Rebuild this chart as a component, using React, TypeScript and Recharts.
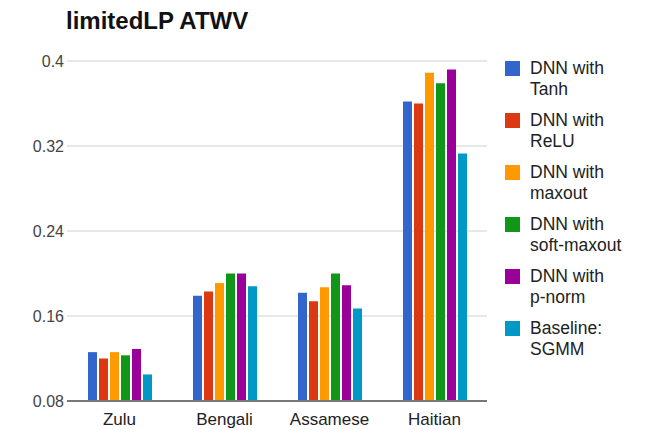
import React from "react"
import {
  BarChart,
  Bar,
  XAxis,
  YAxis,
  CartesianGrid,
} from "recharts"

const languages = ["Zulu", "Bengali", "Assamese", "Haitian"]

const tanh = [0.126, 0.179, 0.182, 0.362]
const relu = [0.12, 0.183, 0.174, 0.36]
const maxout = [0.126, 0.191, 0.187, 0.389]
const softMaxout = [0.123, 0.2, 0.2, 0.379]
const pNorm = [0.129, 0.2, 0.189, 0.392]
const sgmm = [0.105, 0.188, 0.167, 0.313]

const yTicks = [0.08, 0.16, 0.24, 0.32, 0.4]

const seriesList = [
  { key: "tanh", values: tanh, label: ["DNN with", "Tanh"], color: "#3366cc" },
  { key: "relu", values: relu, label: ["DNN with", "ReLU"], color: "#dc3912" },
  { key: "maxout", values: maxout, label: ["DNN with", "maxout"], color: "#ff9900" },
  { key: "softMaxout", values: softMaxout, label: ["DNN with", "soft-maxout"], color: "#109618" },
  { key: "pNorm", values: pNorm, label: ["DNN with", "p-norm"], color: "#990099" },
  { key: "sgmm", values: sgmm, label: ["Baseline:", "SGMM"], color: "#0099c6" },
]

const data = languages.map((lang, i) => {
  const row: Record<string, string | number> = { lang }
  seriesList.forEach((s) => {
    row[s.key] = s.values[i]
  })
  return row
})

const font = "Arial, 'Liberation Sans', sans-serif"

function LegendBox() {
  return (
    <div
      style={{
        position: "absolute",
        left: 505,
        top: 58,
        fontFamily: font,
        fontSize: 17.5,
        color: "#222",
      }}
    >
      {seriesList.map((s) => (
        <div
          key={s.key}
          style={{ position: "relative", height: 52, paddingLeft: 25 }}
        >
          <div
            style={{
              position: "absolute",
              left: 0,
              top: 3,
              width: 15,
              height: 15,
              background: s.color,
            }}
          />
          <div style={{ lineHeight: "21px" }}>{s.label[0]}</div>
          <div style={{ lineHeight: "21px" }}>{s.label[1]}</div>
        </div>
      ))}
    </div>
  )
}

export default function App() {
  return (
    <div
      style={{
        position: "absolute",
        left: 0,
        top: 0,
        width: 646,
        height: 430,
        background: "#fff",
      }}
    >
      <div
        style={{
          position: "absolute",
          left: 66,
          top: 7,
          fontFamily: font,
          fontWeight: "bold",
          fontSize: 24,
          color: "#111",
        }}
      >
        limitedLP ATWV
      </div>
      <BarChart
        width={646}
        height={430}
        data={data}
        margin={{ top: 61, right: 159, left: 17, bottom: 0 }}
        barCategoryGap="20%"
        barGap={2}
      >
        <CartesianGrid vertical={false} stroke="#d0d0d0" />
        <XAxis
          dataKey="lang"
          tickLine={false}
          axisLine={{ stroke: "#777", strokeWidth: 2 }}
          tickSize={0}
          tickMargin={12}
          tick={{ fill: "#222", fontSize: 17, fontFamily: font }}
          height={29}
        />
        <YAxis
          domain={[0.08, 0.4]}
          ticks={yTicks}
          width={50}
          axisLine={false}
          tickLine={false}
          tickSize={0}
          tickMargin={3}
          tick={{ fill: "#444", fontSize: 16, fontFamily: font }}
          allowDataOverflow
        />
        {seriesList.map((s) => (
          <Bar
            key={s.key}
            dataKey={s.key}
            fill={s.color}
            isAnimationActive={false}
          />
        ))}
      </BarChart>
      <LegendBox />
    </div>
  )
}
